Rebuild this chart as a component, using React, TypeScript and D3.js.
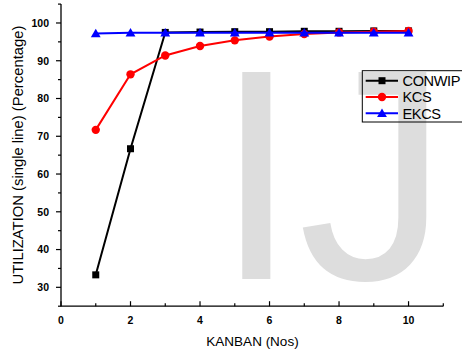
import React from "react";
import * as d3 from "d3";

const kanban = [1, 2, 3, 4, 5, 6, 7, 8, 9, 10];
const conwip = [33.3, 66.7, 97.5, 97.6, 97.7, 97.7, 97.8, 97.8, 97.9, 97.9];
const kcs = [71.7, 86.4, 91.4, 93.9, 95.4, 96.4, 97.1, 97.5, 97.7, 97.9];
const ekcs = [97.2, 97.4, 97.4, 97.4, 97.4, 97.4, 97.4, 97.4, 97.4, 97.4];
const seriesNames = ["CONWIP", "KCS", "EKCS"];
const xMajorTicks = [0, 2, 4, 6, 8, 10];
const xMinorTicks = [1, 3, 5, 7, 9, 11];
const yMajorTicks = [30, 40, 50, 60, 70, 80, 90, 100];
const yMinorTicks = [25, 35, 45, 55, 65, 75, 85, 95, 105];

const FONT = "'Liberation Sans', Arial, sans-serif";

export default function App() {
  const x = d3.scaleLinear().domain([0, 11]).range([61, 443.3]);
  const y = d3.scaleLinear().domain([25, 105]).range([306.2, 4.1]);
  const line = d3
    .line<number>()
    .x((_, i) => x(kanban[i]))
    .y((d) => y(d));

  const series = [
    { name: seriesNames[0], values: conwip, color: "#000000", shape: "square" },
    { name: seriesNames[1], values: kcs, color: "#ff0000", shape: "circle" },
    { name: seriesNames[2], values: ekcs, color: "#0000ff", shape: "triangle" },
  ];

  const marker = (shape: string, cx: number, cy: number, color: string, key?: any) => {
    if (shape === "square")
      return <rect key={key} x={cx - 3.5} y={cy - 3.5} width={7} height={7} fill={color} />;
    if (shape === "circle") return <circle key={key} cx={cx} cy={cy} r={4.2} fill={color} />;
    const tri = d3.symbol().type(d3.symbolTriangle).size(42)();
    return <path key={key} d={tri as string} transform={`translate(${cx},${cy + 0.8})`} fill={color} />;
  };

  const x0 = x(0);
  const yBase = y(25);

  return (
    <svg width={462} height={354} style={{ position: "absolute", left: 0, top: 0, background: "#fff" }}>
      {/* watermark */}
      <text x={214.5} y={279} fontFamily={FONT} fontSize={301} fill="#dddddd">
        IJS
      </text>

      {/* axes */}
      <line x1={x0} x2={x0} y1={y(105)} y2={yBase} stroke="#000" strokeWidth={1.3} />
      <line x1={x0} x2={x(11)} y1={yBase} y2={yBase} stroke="#000" strokeWidth={1.3} />
      {yMajorTicks.map((t) => (
        <g key={"ym" + t}>
          <line x1={x0 - 5} x2={x0} y1={y(t)} y2={y(t)} stroke="#000" strokeWidth={1.2} />
          <text
            x={49}
            y={y(t)}
            dy="0.36em"
            textAnchor="end"
            fontFamily={FONT}
            fontWeight="bold"
            fontSize={10.5}
          >
            {t}
          </text>
        </g>
      ))}
      {yMinorTicks.map((t) => (
        <line key={"yn" + t} x1={x0 - 3} x2={x0} y1={y(t)} y2={y(t)} stroke="#000" strokeWidth={1.2} />
      ))}
      {xMajorTicks.map((t) => (
        <g key={"xm" + t}>
          <line x1={x(t)} x2={x(t)} y1={yBase} y2={yBase - 5} stroke="#000" strokeWidth={1.2} />
          <text x={x(t)} y={324} textAnchor="middle" fontFamily={FONT} fontWeight="bold" fontSize={10.5}>
            {t}
          </text>
        </g>
      ))}
      {xMinorTicks.map((t) => (
        <line key={"xn" + t} x1={x(t)} x2={x(t)} y1={yBase} y2={yBase - 3} stroke="#000" strokeWidth={1.2} />
      ))}

      {/* axis titles */}
      <text x={252.5} y={346} textAnchor="middle" fontFamily={FONT} fontSize={13.5}>
        KANBAN (Nos)
      </text>
      <text
        transform={`translate(23.3,155) rotate(-90)`}
        textAnchor="middle"
        fontFamily={FONT}
        fontSize={14.8}
      >
        UTILIZATION (single line) (Percentage)
      </text>

      {/* series */}
      {series.map((s) => (
        <g key={s.name}>
          <path d={line(s.values) as string} fill="none" stroke={s.color} strokeWidth={2} />
          {s.values.map((v, i) => marker(s.shape, x(kanban[i]), y(v), s.color, i))}
        </g>
      ))}

      {/* legend */}
      <rect x={362.3} y={70.7} width={110} height={51.3} fill="none" stroke="#000" strokeWidth={1} />
      {series.map((s, i) => {
        const ly = 80.7 + i * 16.3;
        return (
          <g key={"lg" + s.name}>
            <line x1={365.7} x2={398} y1={ly} y2={ly} stroke={s.color} strokeWidth={2} />
            {marker(s.shape, 382, ly, s.color)}
            <text x={402.5} y={ly} dy="0.36em" fontFamily={FONT} fontSize={14.6} letterSpacing={-0.4}>
              {s.name}
            </text>
          </g>
        );
      })}
    </svg>
  );
}
